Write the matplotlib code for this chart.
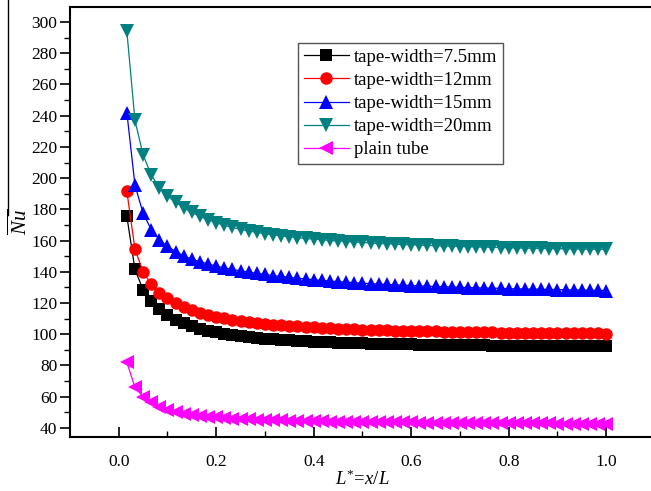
import numpy as np
import matplotlib
matplotlib.use('Agg')
import matplotlib.pyplot as plt

plt.rcParams['font.family'] = ['Liberation Serif', 'DejaVu Serif']
plt.rcParams['mathtext.fontset'] = 'custom'
plt.rcParams['mathtext.rm'] = 'Liberation Serif'
plt.rcParams['mathtext.it'] = 'Liberation Serif:italic'

# x = L* = x/L, 60 stations
x_pos = np.round(np.arange(1, 61) / 60, 4)

nu_75 = [175.5, 141.5, 128.5, 121.2, 116.0, 112.3, 109.3, 107.0, 105.1, 103.6,
         102.3, 101.2, 100.3, 99.5, 98.8, 98.2, 97.7, 97.2, 96.8, 96.4,
         96.1, 95.8, 95.5, 95.3, 95.0, 94.8, 94.6, 94.5, 94.3, 94.2,
         94.0, 93.9, 93.8, 93.7, 93.6, 93.5, 93.4, 93.3, 93.3, 93.2,
         93.1, 93.1, 93.0, 92.9, 92.9, 92.8, 92.8, 92.7, 92.7, 92.6,
         92.6, 92.6, 92.5, 92.5, 92.4, 92.4, 92.4, 92.3, 92.3, 92.3]

nu_12 = [191.5, 154.5, 140.0, 132.0, 126.5, 123.0, 120.0, 117.5, 115.5, 113.8,
         112.4, 111.2, 110.2, 109.3, 108.5, 107.8, 107.2, 106.7, 106.2, 105.8,
         105.4, 105.0, 104.7, 104.4, 104.1, 103.9, 103.6, 103.4, 103.2, 103.0,
         102.8, 102.7, 102.5, 102.4, 102.2, 102.1, 102.0, 101.9, 101.8, 101.7,
         101.6, 101.5, 101.4, 101.3, 101.3, 101.2, 101.1, 101.1, 101.0, 100.9,
         100.9, 100.8, 100.8, 100.7, 100.7, 100.6, 100.6, 100.5, 100.5, 100.4]

nu_15 = [242.0, 195.5, 177.5, 167.0, 160.5, 156.3, 153.0, 150.2, 148.0, 146.5,
         145.0, 143.7, 142.5, 141.5, 140.6, 139.8, 139.0, 138.3, 137.6, 137.0,
         136.4, 135.9, 135.4, 134.9, 134.5, 134.1, 133.7, 133.4, 133.0, 132.7,
         132.4, 132.2, 131.9, 131.7, 131.4, 131.2, 131.0, 130.8, 130.6, 130.4,
         130.3, 130.1, 129.9, 129.8, 129.6, 129.5, 129.4, 129.2, 129.1, 129.0,
         128.9, 128.8, 128.7, 128.6, 128.5, 128.4, 128.3, 128.2, 128.1, 128.0]

nu_20 = [294.0, 237.0, 215.0, 202.0, 194.0, 188.5, 184.5, 181.0, 178.0, 175.5,
         173.3, 171.4, 169.8, 168.4, 167.2, 166.1, 165.2, 164.4, 163.7, 163.0,
         162.4, 161.9, 161.4, 160.9, 160.5, 160.1, 159.7, 159.4, 159.1, 158.8,
         158.5, 158.2, 158.0, 157.7, 157.5, 157.3, 157.1, 156.9, 156.7, 156.5,
         156.4, 156.2, 156.1, 155.9, 155.8, 155.7, 155.5, 155.4, 155.3, 155.2,
         155.1, 155.0, 154.9, 154.8, 154.7, 154.6, 154.5, 154.5, 154.4, 154.3]

nu_plain = [82.0, 66.0, 60.0, 56.3, 53.6, 51.6, 50.2, 49.1, 48.3, 47.6,
            47.1, 46.7, 46.3, 46.0, 45.8, 45.5, 45.3, 45.1, 45.0, 44.8,
            44.7, 44.6, 44.4, 44.3, 44.2, 44.1, 44.0, 44.0, 43.9, 43.8,
            43.8, 43.7, 43.6, 43.6, 43.5, 43.5, 43.4, 43.4, 43.3, 43.3,
            43.3, 43.2, 43.2, 43.1, 43.1, 43.1, 43.0, 43.0, 43.0, 42.9,
            42.9, 42.9, 42.9, 42.8, 42.8, 42.8, 42.8, 42.7, 42.7, 42.7]

series = [
    (nu_75, 'tape-width=7.5mm', 'black', 's', 8),
    (nu_12, 'tape-width=12mm', 'red', 'o', 9),
    (nu_15, 'tape-width=15mm', 'blue', '^', 10),
    (nu_20, 'tape-width=20mm', '#008080', 'v', 10),
    (nu_plain, 'plain tube', 'magenta', '<', 10),
]

fig = plt.figure(figsize=(6.51, 4.91), dpi=100)
ax = fig.add_axes([0.1075, 0.110, 0.8985, 0.8757])

for vals, lab, col, mk, ms in series:
    ax.plot(x_pos, vals, color=col, lw=0.9, marker=mk, markersize=ms,
            markeredgewidth=0, label=lab)

ax.set_xlim(-0.1, 1.1)
ax.set_ylim(34.2, 309.6)
ax.set_xticks(np.arange(0, 1.01, 0.2))
ax.set_xticks(np.arange(0.1, 1.0, 0.2), minor=True)
ax.set_yticks(np.arange(40, 301, 20))
ax.set_yticks(np.arange(50, 301, 20), minor=True)
ax.xaxis.set_major_formatter(matplotlib.ticker.FormatStrFormatter('%.1f'))

ax.tick_params(axis='x', which='major', direction='in', length=7, width=1.2, labelsize=12.5, pad=12)
ax.tick_params(axis='x', which='minor', direction='in', length=4, width=1.0)
ax.tick_params(axis='y', which='major', direction='out', length=7, width=1.2, labelsize=12.5, pad=2)
ax.tick_params(axis='y', which='minor', direction='out', length=4, width=1.0)
ax.spines['right'].set_visible(False)
for s in ['left', 'bottom', 'top']:
    ax.spines[s].set_linewidth(1.5)

ax.set_xlabel(r'$L^{*}$=$x/L$', fontsize=13.5, labelpad=0)
ax.set_ylabel(r'$\overline{Nu}$', fontsize=15, labelpad=0)

# thin vertical rule at the far left, as in the source image
fig.add_artist(plt.Line2D([8 / 651, 8 / 651], [1.0, 1 - 215 / 491],
                          transform=fig.transFigure, color='black', lw=1.0))

leg = ax.legend(loc='upper left', bbox_to_anchor=(0.39, 0.916), borderaxespad=0,
                fancybox=False, edgecolor='#555555', fontsize=13.5,
                handlelength=2.4, handletextpad=0.3, labelspacing=0.32,
                borderpad=0.3, framealpha=1)
leg.get_frame().set_linewidth(1.0)

fig.savefig('out.png', dpi=100)
